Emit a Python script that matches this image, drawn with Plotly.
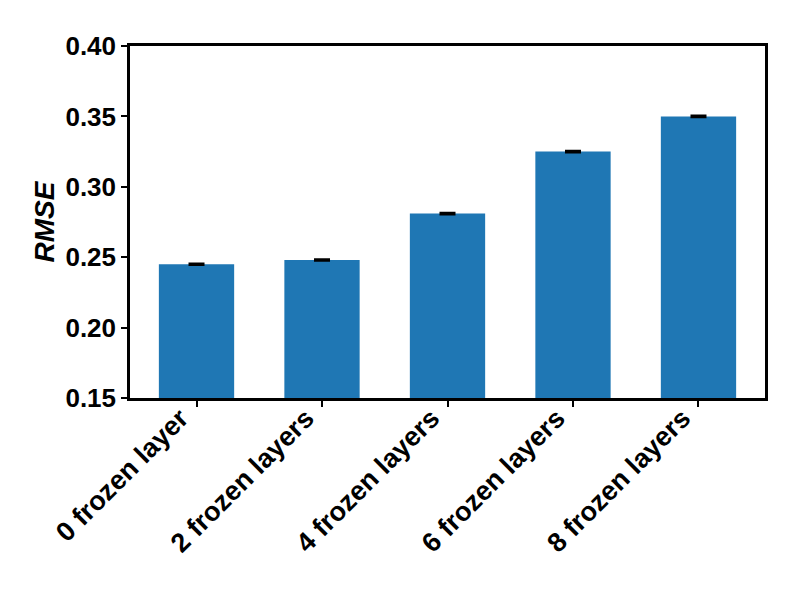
import plotly.graph_objects as go

categories = ["0 frozen layer", "2 frozen layers", "4 frozen layers", "6 frozen layers", "8 frozen layers"]
rmse = [0.245, 0.248, 0.281, 0.325, 0.350]
rmse_err = [0.0006, 0.0006, 0.0006, 0.0006, 0.0006]
y_ticks = [0.15, 0.20, 0.25, 0.30, 0.35, 0.40]

FONT = "Liberation Sans, Arial, sans-serif"

fig = go.Figure()
fig.add_trace(go.Bar(
    x=list(range(len(categories))),
    y=rmse,
    width=0.6,
    marker=dict(color="#1f77b4", line=dict(width=0)),
    error_y=dict(type="data", array=rmse_err, visible=True, color="black", thickness=2, width=8),
))

fig.update_layout(
    width=784, height=584,
    margin=dict(l=122, r=27, t=38, b=194),
    plot_bgcolor="white", paper_bgcolor="white",
    showlegend=False,
    font=dict(family=FONT, size=26, color="black"),
)
fig.update_xaxes(
    range=[-0.53, 4.53],
    tickmode="array", tickvals=list(range(len(categories))),
    ticktext=["<b>%s</b>" % c for c in categories],
    tickangle=-45,
    ticks="outside", ticklen=6, tickwidth=2, tickcolor="black",
    showline=True, linewidth=2.5, linecolor="black", mirror=True,
    showgrid=False, zeroline=False,
    tickfont=dict(family=FONT, size=27, color="black"),
    ticklabelstandoff=-15, ticklabelshift=-16,
)
fig.update_yaxes(
    range=[0.15, 0.40],
    tickmode="array", tickvals=y_ticks,
    ticktext=["<b>%.2f</b>" % v for v in y_ticks],
    ticks="outside", ticklen=6, tickwidth=2, tickcolor="black",
    showline=True, linewidth=2.5, linecolor="black", mirror=True,
    showgrid=False, zeroline=False,
    tickfont=dict(family=FONT, size=26, color="black"),
    title=dict(text="<b><i>RMSE</i></b>", font=dict(family=FONT, size=28, color="black"), standoff=3),
)

fig.write_html("out.html")
